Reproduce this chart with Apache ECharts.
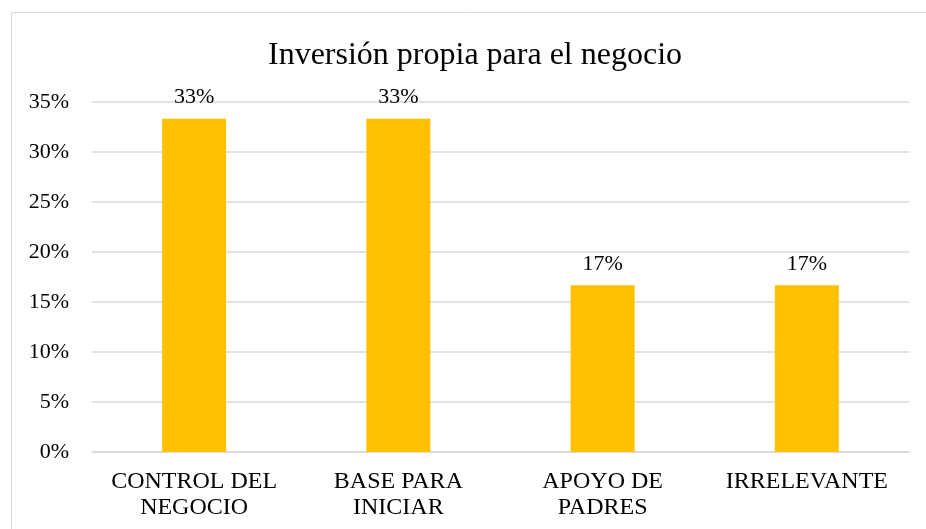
<!DOCTYPE html>
<html>
<head>
<meta charset="utf-8">
<script src="https://cdn.jsdelivr.net/npm/echarts@6/dist/echarts.min.js"></script>
<style>
  html, body { margin: 0; padding: 0; background: #fff; }
  #chart { width: 926px; height: 529px; }
</style>
</head>
<body>
<div id="chart"></div>
<script>
const categories = ["CONTROL DEL\nNEGOCIO", "BASE PARA\nINICIAR", "APOYO DE\nPADRES", "IRRELEVANTE"];
const shares = [0.3333, 0.3333, 0.1667, 0.1667];
const yTicks = { min: 0, max: 0.35, interval: 0.05 };

const font = "'Liberation Serif', 'Times New Roman', serif";
const textStyle = { color: "#000", fontSize: 22, fontFamily: font };
const pct = (v) => Math.round(v * 100) + "%";

const chart = echarts.init(document.getElementById("chart"));
chart.setOption({
  animation: false,
  backgroundColor: "#fff",
  graphic: [
    {
      type: "rect",
      shape: { x: 11.5, y: 12.5, width: 1000, height: 1000 },
      style: { fill: "none", stroke: "#d9d9d9", lineWidth: 1 },
    },
  ],
  title: {
    text: "Inversión propia para el negocio",
    left: 470,
    textAlign: "center",
    top: 35,
    textStyle: { color: "#000", fontSize: 32, fontWeight: "normal", fontFamily: font },
  },
  grid: { top: 102, right: 17, bottom: 77, left: 92 },
  xAxis: {
    type: "category",
    data: categories,
    axisLine: { lineStyle: { color: "#d9d9d9", width: 1.5 } },
    axisTick: { show: false },
    axisLabel: { ...textStyle, fontSize: 24, margin: 17, lineHeight: 26, interval: 0 },
  },
  yAxis: {
    type: "value",
    min: yTicks.min,
    max: yTicks.max,
    interval: yTicks.interval,
    axisLine: { show: false },
    axisTick: { show: false },
    splitLine: { lineStyle: { color: "#d9d9d9", width: 1.5 } },
    axisLabel: { ...textStyle, margin: 23, formatter: pct },
  },
  series: [
    {
      type: "bar",
      data: shares,
      barWidth: 64,
      itemStyle: { color: "#ffc000" },
      label: {
        show: true,
        position: "top",
        distance: 10,
        ...textStyle,
        formatter: (p) => pct(p.value),
      },
    },
  ],
});
</script>
</body>
</html>
